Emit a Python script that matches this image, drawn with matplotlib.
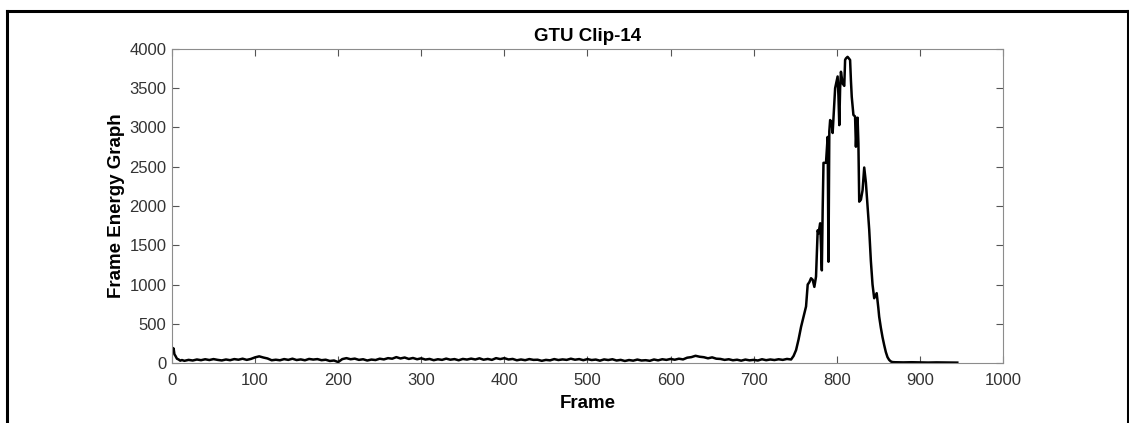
import numpy as np
import matplotlib
matplotlib.use('Agg')
import matplotlib.pyplot as plt
from matplotlib.lines import Line2D

plt.rcParams['font.family'] = ['Liberation Sans', 'DejaVu Sans']

# frame energy values
head_frames = [0, 1, 2, 3, 4, 6, 8, 10, 12]
head_energy = [200, 150, 185, 110, 95, 55, 45, 30, 38]

base_frames = list(range(15, 745, 5))
base_energy = [
    28, 40, 32, 45, 36, 48, 38, 50, 40, 33, 45, 36, 50, 42, 55, 40, 52,
    72, 85, 70, 58, 35, 42,
    35, 50, 40, 55, 38, 46, 35, 52, 44, 50, 36, 42, 26, 32,
    12, 50, 62, 48,
    56, 40, 48, 32, 44, 38, 55, 46, 62, 55, 75, 58, 70, 52, 64, 48,
    60, 44, 52, 36, 48, 40, 56, 42, 50, 35, 52, 44, 56, 45, 60, 42, 52, 40, 62, 50,
    62, 45, 52, 35, 45, 36, 50, 40, 42, 28, 40, 34, 50, 38, 46, 40, 55, 42, 50, 36,
    50, 38, 44, 30, 46, 38, 48, 32, 40, 26, 38, 30, 44, 32, 36, 28, 45, 34, 48, 40,
    52, 42, 55, 46, 68, 75, 92, 80, 74, 60, 72, 55, 52, 40, 48, 35, 42, 30, 44, 34,
    40, 32, 48, 36, 45, 38, 48, 40, 52,
]

peak_frames = [745, 748, 751, 754, 757, 760, 763, 765, 767, 769, 771, 773, 775,
               777, 778, 780, 781, 782, 783, 784, 787, 789, 790, 791, 792, 794,
               795, 797, 798, 800, 801, 802, 803, 804, 805, 807, 809, 810, 811,
               813, 816, 817, 818, 820, 822, 823, 824, 825, 826, 827, 829, 831,
               833, 835, 837, 839, 841, 843, 845, 847, 848, 850, 851, 853, 855,
               857, 859, 861, 863, 865]
peak_energy = [45, 90, 165, 300, 460, 590, 720, 1000, 1030, 1080, 1060, 970, 1100,
               1690, 1650, 1780, 1500, 1180, 1950, 2550, 2550, 2880, 1290, 2950, 3095, 3060,
               2930, 3300, 3500, 3600, 3650, 3400, 3030, 3500, 3710, 3560, 3530, 3860, 3880,
               3900, 3860, 3600, 3390, 3160, 3140, 2755, 3000, 3125, 2800, 2055, 2080, 2200,
               2490, 2300, 1990, 1700, 1300, 1000, 825, 870, 890, 700, 590, 450, 330,
               230, 140, 75, 40, 20]

tail_frames = [867, 870, 880, 890, 900, 910, 920, 930, 940, 945]
tail_energy = [12, 10, 8, 10, 8, 6, 8, 7, 6, 5]

frames = head_frames + base_frames + peak_frames + tail_frames
energy = head_energy + base_energy + peak_energy + tail_energy

fig = plt.figure(figsize=(11.29, 4.23), dpi=100)
ax = fig.add_axes([0.1523, 0.1418, 0.7361, 0.7424])

ax.plot(frames, energy, color='black', linewidth=1.8)

ax.set_xlim(0, 1000)
ax.set_ylim(0, 4000)
ax.set_xticks(np.arange(0, 1001, 100))
ax.set_yticks(np.arange(0, 4001, 500))

grey = '#8c8c8c'
for s in ax.spines.values():
    s.set_color(grey)
    s.set_linewidth(0.8)
ax.tick_params(direction='in', length=5, width=0.8, color='#555555',
               labelsize=12, labelcolor='#333333', top=True, right=True)
ax.tick_params(axis='x', pad=7)
ax.tick_params(axis='y', pad=4)

ax.set_title('GTU Clip-14', fontsize=13.5, fontweight='bold', pad=6)
ax.set_xlabel('Frame', fontsize=13.5, fontweight='bold', labelpad=5)
ax.set_ylabel('Frame Energy Graph', fontsize=13.5, fontweight='bold', labelpad=3)

# outer frame around the figure
W, H = 1129, 423
x0, x1, y1 = 7 / W, 1127.5 / W, 1 - 11 / H
for xs, ys in [([x0, x0], [0, y1]), ([x0, x1], [y1, y1]), ([x1, x1], [0, y1])]:
    fig.add_artist(Line2D(xs, ys, transform=fig.transFigure, color='black', linewidth=2.2))

fig.savefig('out.png', dpi=100)
